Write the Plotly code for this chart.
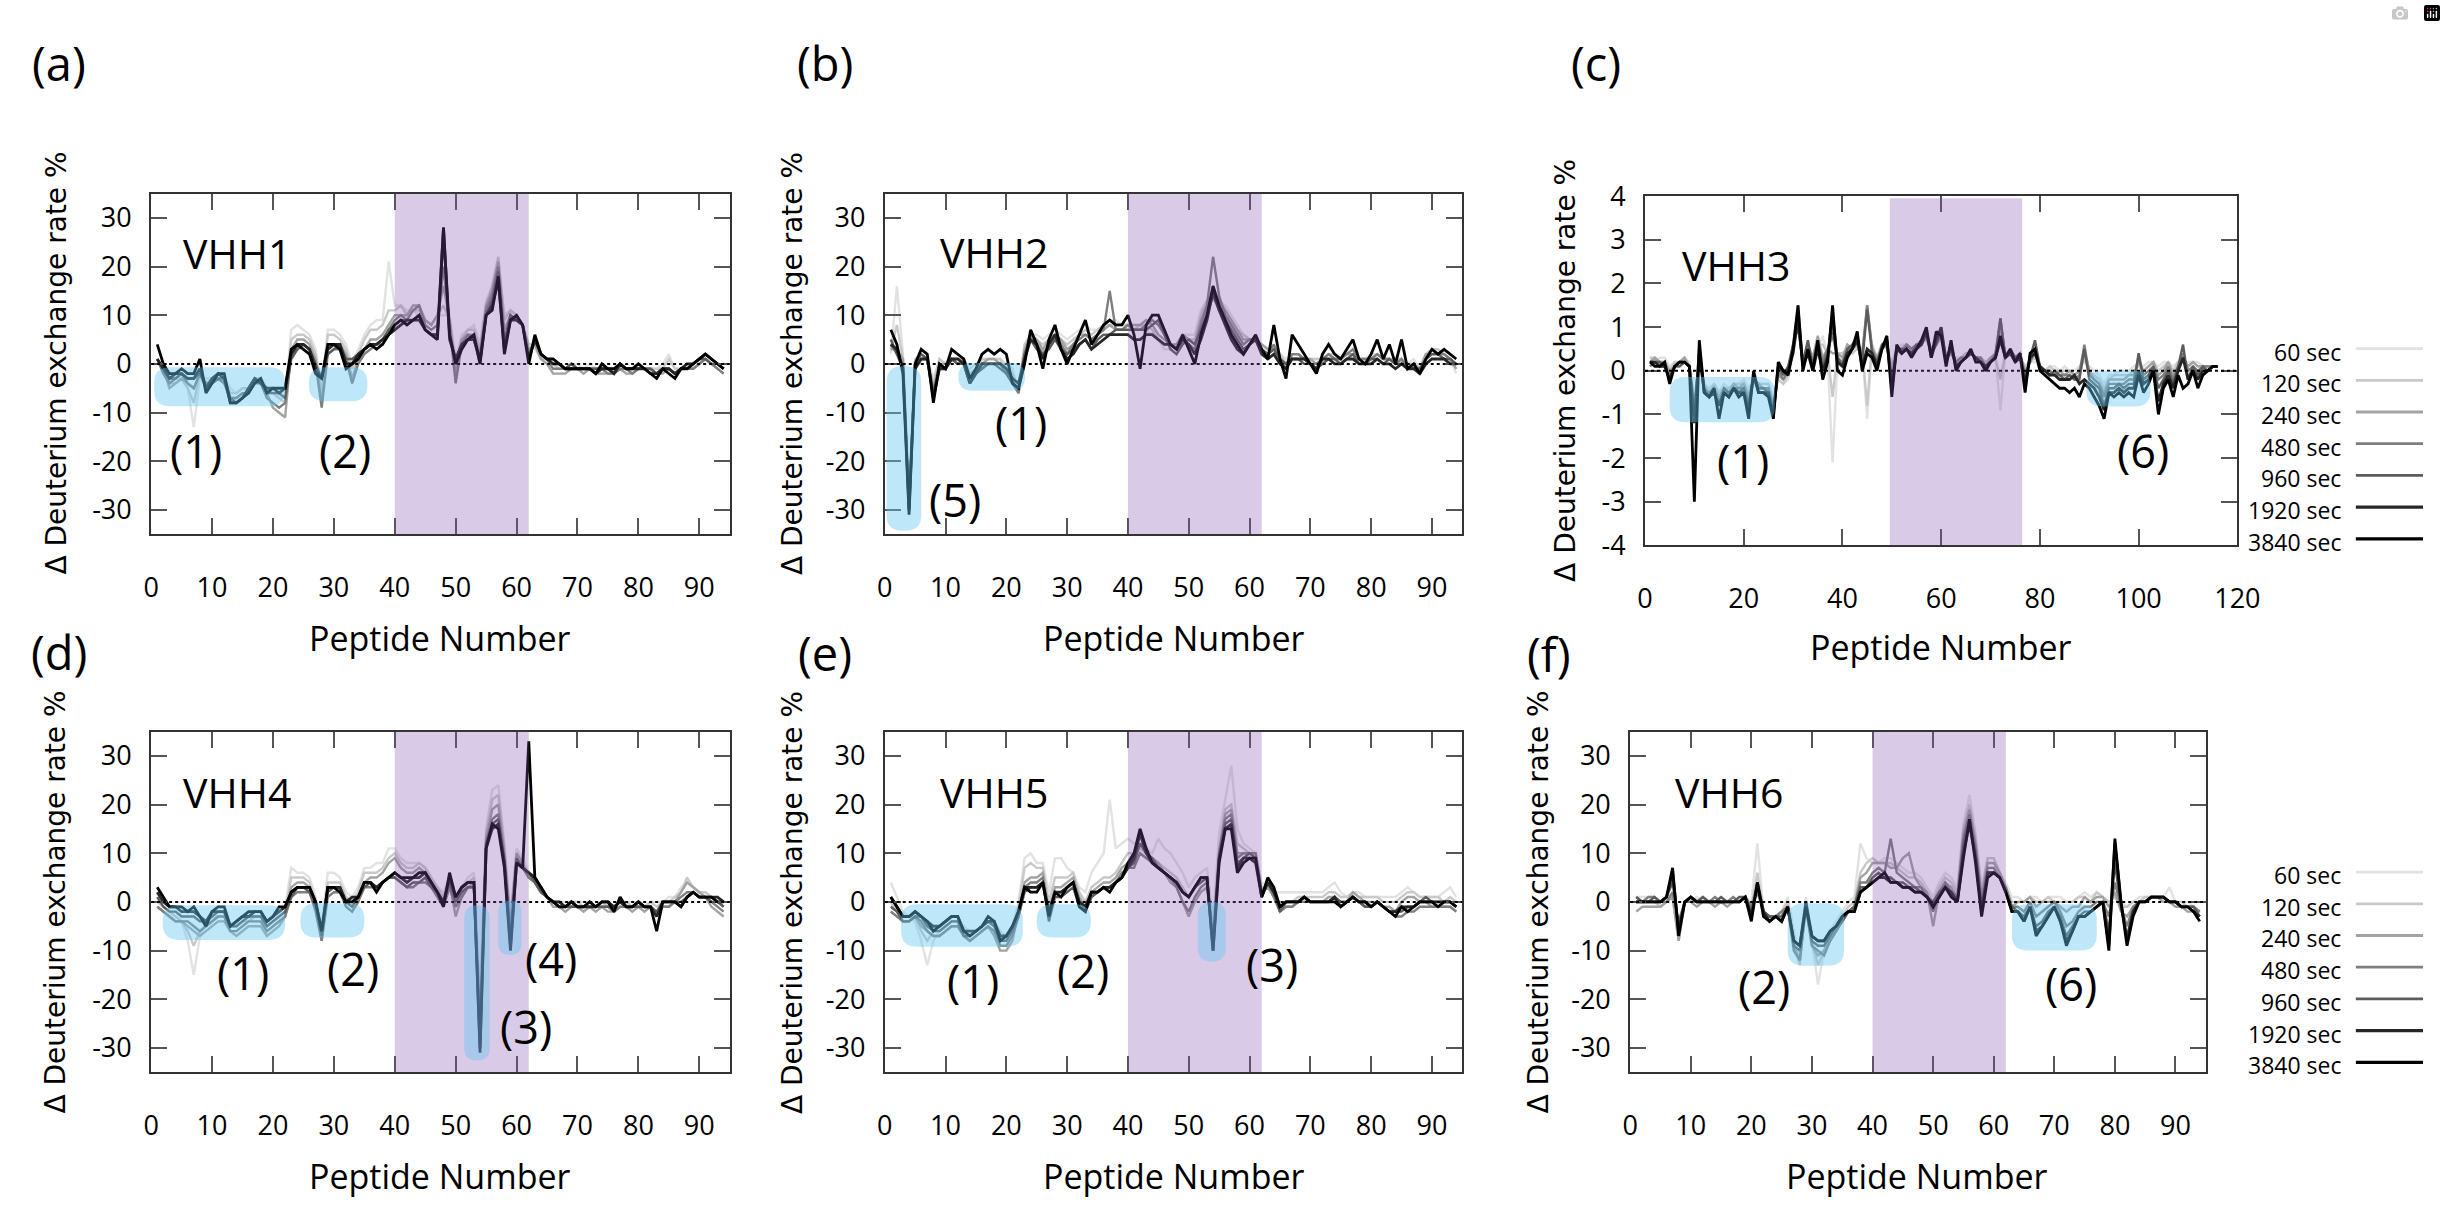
import plotly.graph_objects as go

# ---------------- data ----------------
TIMES = ["60 sec", "120 sec", "240 sec", "480 sec", "960 sec", "1920 sec", "3840 sec"]
NAMES = ["VHH1", "VHH2", "VHH3", "VHH4", "VHH5", "VHH6"]
LETTERS = ["(a)", "(b)", "(c)", "(d)", "(e)", "(f)"]

X_TICKS = [0, 10, 20, 30, 40, 50, 60, 70, 80, 90]
X_TICKS_C = [0, 20, 40, 60, 80, 100, 120]
Y_TICKS = [-30, -20, -10, 0, 10, 20, 30]
Y_TICK_TEXT = ["-30", "-20", "-10", "0", "10", "20", "30"]
Y_TICKS_C = [-4, -3, -2, -1, 0, 1, 2, 3, 4]
Y_TICK_TEXT_C = ["-4", "-3", "-2", "-1", "0", "1", "2", "3", "4"]

# (a) VHH1
A_60 = [1, -1, -4, -3, -3, -5, -13, -3, -3, -3,
        -2, -3, -5, -6, -5, -5, -3, -3, -5, -6,
        -7, -7, 7, 8, 7, 6, 3, -5, 7, 7,
        6, 4, 0, 3, 6, 8, 9, 9, 21, 12,
        12, 11, 11, 10, 9, 8, 10, 10, 10, 1,
        6, 7, 8, 4, 13, 16, 21, 10, 11, 10,
        8, 4, 3, 1, 1, 0, 0, -1, 0, 0,
        -1, 0, -1, -1, -1, -1, 0, -1, -1, 0,
        -1, -1, -1, 0, 2, -1, -1, -1, 0, 1,
        1, 1, 0, -1]
A_120 = [1, -1, -4, -4, -3, -5, -8, -2, -4, -3,
         -2, -3, -6, -6, -5, -5, -3, -3, -5, -6,
         -7, -8, 5, 6, 6, 5, 2, -6, 6, 6,
         5, 3, -1, 2, 5, 7, 7, 8, 11, 11,
         12, 10, 11, 11, 9, 8, 10, 12, 9, 0,
         5, 7, 7, 3, 12, 16, 22, 9, 11, 10,
         8, 4, 4, 1, 1, 0, -1, -1, 0, -1,
         -1, -1, -1, -1, -1, -1, 0, -1, -1, 0,
         -1, -1, -1, -1, 1, -1, -1, -1, 0, 1,
         2, 1, 0, -1]
A_240 = [1, -1, -5, -4, -3, -4, -5, -2, -4, -4,
         -3, -4, -7, -7, -6, -6, -3, -4, -6, -9,
         -10, -11, 3, 5, 5, 4, 1, -8, 3, 4,
         4, 2, -3, 1, 3, 5, 5, 6, 8, 10,
         10, 10, 12, 12, 9, 8, 10, 16, 9, -2,
         5, 6, 6, 2, 12, 15, 21, 7, 10, 9,
         8, 3, 4, 1, 0, -2, -2, -2, -1, -1,
         -2, -1, -2, -2, -2, -2, -1, -2, -2, -1,
         -1, -1, -2, -2, -1, -2, -1, -1, -1, 0,
         1, 0, -1, -2]
A_480 = [1, -2, -4, -3, -2, -4, -5, -2, -4, -4,
         -3, -4, -7, -7, -6, -6, -4, -4, -7, -8,
         -9, -8, 2, 3, 4, 3, 0, -9, 2, 3,
         3, 1, -4, 0, 2, 3, 4, 4, 7, 9,
         10, 9, 11, 12, 8, 7, 8, 20, 8, -4,
         4, 6, 5, 1, 11, 14, 20, 5, 10, 9,
         8, 2, 5, 2, 1, -1, -1, -1, 0, -1,
         -1, -1, -1, -1, -2, -2, -1, -1, -2, -1,
         -1, -1, -2, -1, -1, -2, -1, -1, -1, 0,
         1, 0, -1, -2]
A_960 = [1, -1, -3, -3, -2, -3, -3, -2, -5, -4,
         -3, -3, -7, -8, -7, -5, -3, -4, -6, -6,
         -6, -7, 1, 3, 4, 3, 0, -3, 2, 3,
         4, 1, 1, 2, 3, 4, 4, 5, 7, 8,
         9, 9, 9, 10, 7, 6, 6, 26, 6, 1,
         4, 5, 5, 0, 10, 13, 19, 4, 10, 9,
         8, 1, 5, 2, 1, 0, 0, -1, 0, -1,
         -1, -1, -1, -1, -1, -2, 0, -1, -1, -1,
         -1, -1, -2, -1, -1, -2, -1, -1, 0, 1,
         1, 0, 0, -1]
A_1920 = [1, -1, -3, -2, -2, -3, -3, -1, -5, -3,
          -2, -3, -8, -8, -7, -5, -3, -4, -5, -5,
          -6, -5, 2, 4, 4, 3, -1, -3, 3, 4,
          4, 0, 0, 2, 3, 4, 4, 5, 6, 7,
          8, 9, 9, 9, 7, 6, 6, 28, 5, 1,
          4, 5, 5, 1, 10, 12, 17, 3, 9, 9,
          8, 1, 5, 2, 1, 0, 0, -1, -1, -1,
          -1, -1, -2, -1, -1, -2, 0, -1, -1, -1,
          -1, -2, -2, -1, -1, -2, -1, 0, 0, 1,
          2, 1, 0, -1]
A_3840 = [4, 0, -2, -2, -1, -2, -2, 1, -6, -4,
          -2, -2, -8, -8, -7, -6, -4, -3, -6, -5,
          -5, -5, 3, 4, 3, 2, -2, -3, 4, 4,
          3, -1, 0, 1, 3, 4, 3, 4, 6, 8,
          9, 8, 9, 10, 7, 6, 5, 28, 6, 0,
          3, 5, 6, 0, 10, 11, 18, 2, 9, 10,
          8, 0, 6, 2, 1, 1, 0, -1, -1, -1,
          -1, -1, -2, 0, -1, -1, 0, -1, -1, 0,
          -1, -2, -3, -1, -2, -3, -1, -1, 0, 1,
          2, 1, 0, -1]

# (b) VHH2
B_60 = [2, 16, 2, -27, 1, 2, 1, -3, 1, 0,
        1, 1, 1, -1, 0, 1, 1, 1, 1, 0,
        -1, -6, 4, 6, 6, 5, 6, 7, 6, 5,
        6, 7, 8, 7, 7, 8, 9, 9, 8, 8,
        7, 8, 7, 6, 5, 3, 3, 4, 6, 6,
        6, 11, 13, 13, 13, 12, 10, 8, 6, 5,
        5, 4, 3, 3, 2, 1, 2, 2, 1, 1,
        1, 1, 2, 2, 1, 2, 2, 1, 1, 2,
        2, 1, 1, 1, 1, 0, 1, -1, 2, 3,
        3, 2, 1, -2]
B_120 = [3, 8, 1, -28, 1, 2, 1, -4, 1, 0,
         1, 1, 1, -2, -1, 1, 1, 1, 1, -1,
         -2, -5, 4, 6, 5, 4, 5, 6, 5, 4,
         5, 6, 7, 6, 7, 8, 8, 8, 8, 8,
         7, 8, 8, 7, 5, 4, 4, 4, 6, 5,
         5, 10, 13, 14, 13, 11, 9, 7, 6, 5,
         5, 4, 3, 3, 2, 0, 2, 2, 1, 1,
         1, 1, 2, 2, 1, 2, 2, 1, 1, 1,
         2, 1, 1, 1, 1, 0, 0, -1, 2, 3,
         3, 2, 1, -1]
B_240 = [3, 3, 1, -29, 0, 1, 1, -5, 0, 0,
         1, 0, 1, -3, -1, 0, 1, 1, 0, -1,
         -3, -6, 3, 6, 5, 3, 5, 6, 5, 3,
         4, 6, 6, 5, 6, 7, 8, 7, 7, 8,
         8, 8, 9, 8, 6, 5, 4, 4, 6, 5,
         4, 9, 12, 15, 13, 11, 9, 7, 5, 5,
         5, 4, 3, 3, 1, 0, 2, 2, 1, 1,
         0, 1, 2, 1, 1, 2, 2, 1, 1, 1,
         2, 1, 1, 0, 1, -1, 0, -1, 2, 2,
         2, 2, 1, -1]
B_480 = [4, 2, 0, -30, 0, 1, 1, -6, 0, -1,
         1, 0, 0, -4, -2, -1, 0, 0, 0, -2,
         -4, -6, 2, 6, 4, 2, 4, 6, 4, 2,
         4, 5, 6, 5, 6, 7, 15, 7, 7, 8,
         7, 7, 8, 9, 8, 6, 4, 3, 5, 4,
         3, 8, 12, 22, 14, 10, 8, 6, 4, 5,
         5, 3, 2, 4, 1, -1, 2, 2, 1, 0,
         0, 1, 2, 1, 1, 2, 3, 1, 1, 1,
         2, 1, 1, 0, 1, -1, 0, -2, 1, 2,
         2, 2, 1, 0]
B_960 = [5, 2, -1, -30, 0, 2, 1, -6, -1, -1,
         1, 0, 0, -4, -2, -1, 0, 0, -1, -2,
         -4, -5, 2, 5, 3, 2, 3, 5, 3, 2,
         3, 4, 5, 3, 5, 6, 6, 7, 7, 7,
         7, 7, 7, 8, 9, 6, 3, 2, 4, 5,
         4, 7, 10, 14, 11, 9, 7, 5, 3, 4,
         5, 3, 2, 3, 1, 0, 1, 1, 0, 0,
         -1, 0, 1, 1, 0, 1, 2, 0, 0, 1,
         1, 0, 1, 0, 0, -1, -1, -1, 1, 2,
         2, 1, 1, 0]
B_1920 = [4, 3, -1, -30, -1, 1, 1, -7, -1, -1,
          1, 1, 0, -4, -2, 0, 0, 0, 0, -1,
          -3, -4, 1, 5, 4, 1, 4, 6, 3, 1,
          2, 4, 5, 3, 4, 5, 6, 6, 6, 6,
          5, 5, 6, 6, 5, 4, 4, 3, 5, 4,
          2, 5, 9, 15, 11, 8, 5, 3, 2, 4,
          5, 2, 1, 2, 0, -1, 1, 1, 1, 0,
          -1, 1, 1, 0, 0, 1, 1, 0, 0, 0,
          1, 0, 0, -1, 0, -1, -1, -2, 0, 1,
          1, 1, 0, 0]
B_3840 = [7, 4, -2, -31, 0, 3, 2, -8, 0, -1,
          3, 2, 1, -3, -1, 2, 3, 2, 3, 2,
          -4, -5, 0, 7, 4, -1, 5, 8, 3, 0,
          3, 6, 9, 4, 6, 8, 9, 8, 8, 10,
          6, -1, 8, 10, 10, 7, 4, 3, 6, 3,
          0, 6, 10, 16, 12, 9, 6, 4, 2, 4,
          6, 3, 1, 8, 1, -3, 6, 4, 2, 0,
          -2, 2, 4, 2, 1, 3, 5, 1, 0, 2,
          5, 1, 4, 0, 5, -1, 0, -2, 1, 3,
          2, 3, 2, 1]

# (c) VHH3
C_60 = [0.3, 0.2, 0.3, 0.3, 0.1, 0.2, 0.2, 0.3, 0.2, -0.6,
        0.2, -0.3, -0.4, -0.3, -0.5, -0.3, -0.4, -0.3, -0.3, -0.2,
        -0.4, -0.2, -0.3, -0.3, -0.3, -0.6, -0.2, -0.3, -0.2, 0.4,
        1.2, 0.0, 0.4, 0.2, 0.5, 0.8, 0.3, -2.1, 0.3, 0.4,
        0.5, 0.4, 0.6, 0.5, -1.1, 0.6, 0.3, 0.6, 0.5, 0.2,
        0.5, 0.6, 0.6, 0.5, 0.6, 0.7, 0.7, 0.5, 0.6, 0.7,
        0.3, 0.4, 0.3, 0.3, 0.4, 0.4, 0.3, 0.3, 0.2, 0.3,
        0.3, -0.9, 0.4, 0.4, 0.3, 0.3, 0.1, 0.2, 0.2, 0.1,
        0.0, 0.1, 0.1, 0.0, 0.1, 0.0, 0.0, 0.1, 0.2, 0.1,
        0.0, -0.1, -0.3, -0.1, -0.1, 0.0, 0.0, 0.0, 0.1, 0.2,
        0.1, 0.2, 0.2, 0.1, 0.2, 0.2, 0.1, 0.2, 0.2, 0.2,
        0.2, 0.2, 0.1, 0.1, 0.1, 0.1]
C_120 = [0.3, 0.3, 0.2, 0.2, 0.0, 0.2, 0.2, 0.3, 0.1, -0.7,
         0.2, -0.3, -0.5, -0.3, -0.5, -0.4, -0.4, -0.3, -0.3, -0.3,
         -0.5, -0.2, -0.3, -0.3, -0.3, -0.7, -0.2, -0.3, -0.1, 0.5,
         1.3, 0.0, 0.5, 0.2, 0.6, 0.6, 0.4, -0.6, 0.4, 0.4,
         0.5, 0.4, 0.5, 0.5, -0.8, 0.6, 0.3, 0.6, 0.6, 0.1,
         0.5, 0.5, 0.6, 0.5, 0.6, 0.7, 0.7, 0.5, 0.6, 0.8,
         0.3, 0.4, 0.2, 0.3, 0.4, 0.4, 0.3, 0.3, 0.2, 0.3,
         0.3, -0.2, 0.4, 0.4, 0.3, 0.3, 0.1, 0.2, 0.3, 0.1,
         0.0, 0.1, 0.0, 0.0, 0.0, 0.0, -0.1, 0.0, 0.3, 0.0,
         -0.1, -0.2, -0.4, -0.2, -0.1, -0.1, -0.1, -0.1, 0.0, 0.1,
         0.0, 0.1, 0.2, 0.0, 0.1, 0.2, 0.0, 0.2, 0.2, 0.1,
         0.2, 0.1, 0.1, 0.1, 0.1, 0.1]
C_240 = [0.2, 0.3, 0.2, 0.2, 0.0, 0.1, 0.2, 0.3, 0.1, -0.8,
         0.3, -0.4, -0.5, -0.4, -0.6, -0.4, -0.5, -0.3, -0.4, -0.3,
         -0.6, -0.2, -0.3, -0.4, -0.4, -0.8, -0.1, -0.2, 0.0, 0.6,
         1.5, 0.1, 0.6, 0.3, 0.8, 0.3, 0.5, 0.4, 0.4, 0.3,
         0.6, 0.5, 0.6, 0.4, 1.5, 0.5, 0.3, 0.5, 0.6, 0.0,
         0.5, 0.5, 0.6, 0.5, 0.6, 0.6, 0.8, 0.5, 0.6, 0.8,
         0.3, 0.4, 0.2, 0.3, 0.3, 0.4, 0.3, 0.3, 0.1, 0.3,
         0.4, 1.0, 0.4, 0.4, 0.3, 0.3, 0.0, 0.2, 0.4, 0.1,
         0.0, 0.0, -0.1, 0.0, -0.1, 0.0, -0.1, 0.0, 0.5, 0.0,
         -0.2, -0.3, -0.5, -0.2, -0.2, -0.2, -0.2, -0.1, -0.1, 0.2,
         0.0, 0.1, 0.2, -0.1, 0.0, 0.2, -0.1, 0.1, 0.3, 0.1,
         0.2, 0.1, 0.1, 0.1, 0.1, 0.1]
C_480 = [0.1, 0.2, 0.2, 0.1, -0.1, 0.1, 0.1, 0.2, 0.1, -0.9,
         0.3, -0.5, -0.5, -0.4, -0.7, -0.5, -0.5, -0.4, -0.4, -0.4,
         -0.7, -0.2, -0.4, -0.4, -0.4, -0.9, 0.0, -0.2, 0.0, 0.5,
         1.4, 0.2, 0.5, 0.2, 0.7, 0.2, 0.5, 0.8, 0.3, 0.2,
         0.5, 0.5, 0.7, 0.3, 1.5, 0.5, 0.2, 0.5, 0.6, -0.2,
         0.5, 0.4, 0.6, 0.5, 0.6, 0.6, 0.8, 0.4, 0.6, 0.9,
         0.3, 0.5, 0.2, 0.3, 0.3, 0.4, 0.3, 0.3, 0.1, 0.2,
         0.4, 1.2, 0.3, 0.4, 0.3, 0.4, -0.1, 0.2, 0.5, 0.1,
         0.0, 0.0, -0.1, -0.1, -0.1, -0.1, -0.2, -0.1, 0.6, -0.1,
         -0.2, -0.3, -0.6, -0.3, -0.3, -0.3, -0.3, -0.2, -0.2, 0.3,
         -0.1, 0.0, 0.1, -0.2, -0.1, 0.1, -0.2, 0.1, 0.4, 0.0,
         0.1, 0.0, 0.1, 0.1, 0.1, 0.1]
C_960 = [0.2, 0.2, 0.2, 0.1, -0.2, 0.1, 0.1, 0.2, 0.1, -1.0,
         0.4, -0.4, -0.6, -0.5, -0.8, -0.4, -0.5, -0.4, -0.5, -0.4,
         -0.8, -0.1, -0.4, -0.4, -0.5, -1.0, 0.1, -0.1, 0.1, 0.6,
         1.0, 0.2, 0.7, 0.1, 0.6, 0.1, 0.4, 1.0, 0.3, 0.1,
         0.5, 0.6, 0.8, 0.2, 1.4, 0.4, 0.2, 0.6, 0.7, -0.3,
         0.5, 0.5, 0.5, 0.4, 0.6, 0.6, 0.9, 0.4, 0.6, 0.9,
         0.2, 0.5, 0.1, 0.2, 0.3, 0.4, 0.3, 0.2, 0.0, 0.2,
         0.3, 1.2, 0.3, 0.5, 0.3, 0.4, -0.2, 0.3, 0.7, 0.1,
         0.0, -0.1, 0.0, -0.1, -0.2, -0.1, -0.2, -0.2, 0.5, -0.2,
         -0.3, -0.4, -0.8, -0.4, -0.4, -0.3, -0.4, -0.3, -0.3, 0.4,
         -0.2, -0.1, 0.1, -0.4, -0.2, 0.0, -0.3, 0.1, 0.6, -0.2,
         0.1, -0.1, 0.1, 0.0, 0.1, 0.1]
C_1920 = [0.2, 0.2, 0.1, 0.1, -0.2, 0.1, 0.2, 0.2, 0.1, -1.2,
          0.5, -0.5, -0.6, -0.5, -0.8, -0.5, -0.6, -0.4, -0.5, -0.5,
          -0.9, -0.1, -0.5, -0.5, -0.5, -1.0, 0.1, 0.0, 0.0, 0.4,
          1.2, 0.1, 0.4, 0.0, 0.5, 0.0, 0.3, 1.3, 0.2, 0.1,
          0.4, 0.5, 0.7, 0.1, 0.5, 0.4, 0.1, 0.5, 0.7, -0.4,
          0.5, 0.4, 0.5, 0.4, 0.5, 0.6, 0.9, 0.3, 0.7, 1.0,
          0.2, 0.6, 0.1, 0.2, 0.3, 0.4, 0.3, 0.2, 0.1, 0.2,
          0.3, 0.7, 0.3, 0.4, 0.2, 0.3, -0.3, 0.3, 0.4, 0.1,
          0.0, -0.1, -0.1, -0.2, -0.2, -0.2, -0.1, -0.3, -0.2, -0.3,
          -0.4, -0.6, -0.9, -0.5, -0.5, -0.4, -0.5, -0.4, -0.4, 0.0,
          -0.3, -0.2, 0.0, -0.7, -0.3, -0.1, -0.4, 0.0, 0.3, -0.2,
          0.0, -0.2, 0.0, 0.0, 0.1, 0.1]
C_3840 = [0.2, 0.1, 0.1, 0.2, -0.3, 0.1, 0.2, 0.2, 0.1, -3.0,
          0.7, -0.5, -0.6, -0.4, -1.1, -0.5, -0.6, -0.4, -0.6, -0.5,
          -1.1, 0.0, -0.5, -0.5, -0.6, -1.1, 0.2, 0.0, -0.1, 0.5,
          1.5, 0.0, 0.5, 0.0, 0.7, -0.2, 0.2, 1.5, 0.0, -0.1,
          0.3, 0.5, 0.9, 0.0, 0.4, 0.3, 0.0, 0.5, 0.8, -0.6,
          0.6, 0.4, 0.5, 0.3, 0.5, 0.7, 1.0, 0.3, 0.9, 0.8,
          0.1, 0.7, 0.0, 0.2, 0.3, 0.5, 0.2, 0.2, 0.0, 0.2,
          0.3, 0.8, 0.3, 0.5, 0.2, 0.4, -0.5, 0.4, 0.5, 0.0,
          -0.1, -0.2, -0.3, -0.4, -0.4, -0.5, -0.4, -0.6, -0.3, -0.4,
          -0.6, -0.8, -1.1, -0.5, -0.6, -0.5, -0.6, -0.5, -0.6, -0.1,
          -0.5, -0.3, 0.0, -1.0, -0.4, -0.2, -0.6, -0.1, -0.4, -0.3,
          0.0, -0.4, -0.1, 0.0, 0.1, 0.1]

# (d) VHH4
D_60 = [1, -1, -2, -3, -4, -8, -15, -7, -4, -3,
        -3, -3, -5, -5, -4, -3, -3, -3, -4, -3,
        -2, -1, 7, 6, 6, 5, 1, -5, 6, 6,
        5, 2, 1, 3, 7, 7, 8, 8, 11, 11,
        9, 8, 8, 8, 7, 5, 3, 2, 5, 0,
        3, 5, 6, -20, 15, 23, 24, 12, -3, 11,
        9, 6, 4, 2, 1, 0, 0, 0, 0, 0,
        0, 0, -1, 0, 0, -1, 0, 0, 0, 0,
        -1, 0, 0, 0, 1, 1, 3, 4, 3, 2,
        2, 1, 0, -1]
D_120 = [0, -1, -2, -3, -4, -6, -9, -6, -5, -4,
         -3, -3, -5, -5, -4, -4, -3, -3, -5, -4,
         -3, -2, 5, 5, 5, 4, 0, -6, 4, 4,
         4, 1, 0, 2, 6, 6, 6, 7, 9, 10,
         8, 7, 7, 8, 7, 5, 3, 1, 5, -1,
         2, 4, 5, -22, 14, 21, 22, 11, -4, 10,
         8, 5, 4, 2, 1, 0, 0, -1, 0, 0,
         -1, 0, -1, 0, -1, -1, 0, 0, -1, 0,
         -1, 0, -1, 0, 0, 1, 2, 5, 3, 2,
         2, 1, 0, -1]
D_240 = [-1, -2, -3, -4, -4, -5, -6, -7, -6, -5,
         -4, -4, -6, -7, -6, -5, -5, -5, -7, -6,
         -5, -3, 3, 4, 4, 3, -1, -8, 3, 3,
         3, 0, -1, 1, 4, 5, 5, 6, 8, 9,
         7, 6, 6, 7, 6, 4, 2, 0, 4, -3,
         1, 3, 4, -24, 13, 19, 20, 10, -5, 10,
         8, 5, 4, 2, 1, -1, -1, -2, -1, -1,
         -2, -1, -2, -1, -2, -2, -1, -1, -2, -1,
         -2, -1, -2, -1, -1, 0, 2, 4, 3, 2,
         1, -1, -2, -3]
D_480 = [-1, -2, -3, -4, -4, -4, -5, -6, -5, -4,
         -3, -3, -6, -6, -5, -4, -4, -4, -6, -5,
         -4, -3, 1, 2, 2, 2, -2, -8, 1, 2,
         2, -1, -2, 0, 3, 3, 3, 4, 5, 5,
         4, 3, 3, 4, 4, 3, 1, -1, 3, -1,
         1, 3, 3, -26, 12, 17, 18, 9, -6, 9,
         7, 5, 4, 2, 1, 0, -1, -1, -1, -1,
         -1, -1, -1, -1, -1, -2, -1, -1, -1, -1,
         -1, -1, -2, -1, -1, 0, 1, 2, 2, 1,
         1, 0, -1, -2]
D_960 = [1, -1, -2, -2, -3, -3, -3, -4, -4, -3,
         -2, -2, -5, -5, -4, -3, -3, -3, -5, -4,
         -3, -2, 1, 3, 3, 2, -1, -7, 2, 3,
         3, 0, -1, 1, 3, 4, 3, 4, 5, 5,
         4, 3, 4, 4, 5, 3, 2, 0, 4, 0,
         2, 3, 3, -29, 12, 16, 17, 8, -8, 9,
         7, 6, 4, 2, 1, 0, -1, -1, -1, -1,
         -1, -1, -1, -1, -1, -1, 0, -1, -1, -1,
         -1, -1, -2, 0, 0, 0, 0, 1, 2, 1,
         1, 0, 0, -1]
D_1920 = [2, 0, -1, -1, -2, -2, -2, -3, -4, -2,
          -2, -2, -5, -4, -3, -3, -2, -2, -4, -3,
          -2, -1, 2, 3, 3, 3, 0, -6, 3, 3,
          3, 0, 1, 1, 4, 4, 3, 4, 5, 6,
          5, 4, 5, 5, 6, 4, 2, 0, 5, 1,
          3, 4, 4, -30, 11, 15, 16, 8, -9, 8,
          7, 6, 5, 3, 1, 0, 0, -1, 0, -1,
          -1, -1, -1, 0, 0, -1, 0, -1, -1, 0,
          -1, -1, -3, 0, 0, 0, -1, 1, 2, 1,
          1, 1, 1, 0]
D_3840 = [3, 1, -1, -1, -1, -2, -1, -3, -5, -2,
          -1, -1, -5, -4, -3, -2, -2, -2, -4, -3,
          -1, -1, 2, 3, 3, 3, 0, -6, 3, 3,
          2, 0, 0, 1, 4, 4, 2, 4, 5, 6,
          5, 5, 5, 6, 6, 4, 2, -1, 6, 1,
          3, 4, 4, -31, 11, 16, 15, 7, -10, 8,
          7, 33, 5, 3, 1, 0, -1, -1, 0, -1,
          -1, 0, -1, 0, 0, -2, 1, -1, -1, 0,
          -1, -1, -6, 0, 0, 0, -1, 1, 2, 1,
          1, 1, 0, 0]

# (e) VHH5
E_60 = [4, 1, -2, -3, -4, -8, -13, -8, -6, -5,
        -4, -4, -5, -6, -6, -5, -4, -4, -6, -7,
        -5, 0, 9, 10, 8, 8, 2, 9, 9, 7,
        6, 3, 2, 6, 8, 10, 21, 11, 12, 13,
        12, 12, 11, 10, 13, 11, 10, 8, 6, 3,
        5, 6, 7, -4, 14, 21, 28, 15, 12, 11,
        10, 4, 3, 2, 2, 2, 2, 2, 2, 2,
        2, 2, 3, 4, 2, 1, 2, 2, 1, 1,
        1, 1, 1, 1, 2, 3, 2, 1, 1, 1,
        1, 2, 3, 1]
E_120 = [0, -2, -3, -3, -3, -6, -8, -6, -6, -5,
         -4, -4, -6, -7, -6, -5, -4, -5, -8, -8,
         -6, -1, 7, 8, 7, 7, 0, 5, 5, 5,
         6, 2, 0, 3, 4, 5, 5, 6, 8, 10,
         10, 11, 10, 9, 8, 7, 6, 5, 3, 1,
         3, 4, 5, -6, 11, 19, 20, 12, 11, 10,
         10, 3, 3, 1, 0, 0, 0, 1, 1, 1,
         1, 1, 2, 2, 1, 1, 2, 1, 1, 1,
         1, 0, 0, 0, 1, 2, 2, 1, 1, 1,
         1, 0, 1, 0]
E_240 = [-2, -3, -4, -4, -3, -5, -6, -7, -7, -6,
         -5, -5, -7, -8, -7, -6, -5, -7, -10, -10,
         -8, -2, 4, 5, 5, 6, -2, 3, 3, 4,
         5, 1, -1, 2, 3, 4, 4, 5, 7, 8,
         8, 10, 9, 9, 8, 6, 4, 3, 0, -3,
         0, 2, 3, -7, 10, 18, 19, 10, 10, 10,
         10, 2, 3, 1, -2, -1, -1, 0, 0, 0,
         0, 0, 1, 1, 0, 0, 2, 1, 0, 0,
         0, -1, -1, -2, 0, 1, 1, 0, 0, -1,
         -1, -1, -1, -2]
E_480 = [-2, -3, -4, -4, -3, -4, -6, -7, -7, -6,
         -5, -5, -7, -8, -7, -6, -5, -6, -9, -9,
         -7, -3, 3, 4, 4, 5, -3, 2, 2, 3,
         4, 0, -2, 1, 2, 3, 3, 4, 6, 7,
         7, 10, 9, 8, 7, 6, 5, 3, 0, -2,
         1, 3, 4, -8, 10, 17, 18, 9, 10, 10,
         10, 2, 4, 1, -2, -1, -1, 0, 0, 0,
         0, 0, 0, 1, 0, 0, 1, 0, -1, -1,
         0, -1, -2, -3, -3, -2, -2, -1, -1, -1,
         -1, -1, -1, -2]
E_960 = [-1, -2, -4, -4, -3, -3, -5, -6, -6, -5,
         -4, -4, -7, -7, -6, -5, -4, -5, -8, -8,
         -6, -3, 2, 3, 3, 4, -4, 1, 1, 2,
         3, -1, -2, 1, 2, 3, 3, 4, 5, 7,
         8, 12, 10, 9, 7, 6, 5, 4, 2, 1,
         3, 4, 5, -9, 9, 16, 17, 8, 9, 10,
         9, 1, 4, 2, -2, 0, 0, 0, 1, 0,
         0, 0, 0, 1, 0, 0, 1, 0, -1, -1,
         0, -1, -2, -2, -2, -1, -1, 0, 1, 0,
         0, 0, 0, -1]
E_1920 = [1, -1, -3, -3, -2, -3, -4, -5, -5, -4,
          -3, -3, -6, -6, -6, -5, -4, -4, -7, -7,
          -5, -2, 3, 3, 3, 4, -2, 2, 2, 3,
          4, 0, -1, 2, 2, 3, 3, 4, 5, 7,
          9, 14, 10, 8, 7, 6, 5, 4, 2, 1,
          3, 5, 5, -10, 9, 15, 16, 7, 9, 9,
          8, 1, 4, 2, -1, 0, 0, 0, 1, 0,
          0, 0, 0, 1, -1, 0, 1, 0, 0, -1,
          0, -1, -2, -2, -1, -1, -1, 0, 0, 0,
          0, 0, 0, -1]
E_3840 = [1, -1, -3, -3, -2, -3, -4, -6, -5, -4,
          -3, -3, -6, -7, -6, -5, -3, -4, -8, -7,
          -5, -2, 3, 2, 2, 4, -3, 2, 1, 3,
          4, -1, -2, 2, 2, 3, 2, 4, 5, 8,
          10, 15, 11, 8, 7, 6, 5, 4, 2, 1,
          3, 5, 5, -10, 8, 15, 15, 6, 8, 9,
          9, 1, 5, 3, -1, 0, 0, 0, 1, 0,
          0, 0, 0, 0, -1, 0, 1, 0, 0, -1,
          0, -1, -2, -3, -1, -2, -1, 0, 0, 0,
          -1, 0, 0, -1]

# (f) VHH6
F_60 = [1, 1, 1, 1, 0, 0, 1, -8, 0, 0,
        1, 0, 0, 0, 1, 0, 1, 0, 1, 0,
        12, -2, -3, -3, -2, 1, -6, -12, 1, -8,
        -17, -10, -6, -4, -2, 0, 1, 12, 9, 8,
        8, 9, 9, 8, 7, 6, 6, 5, 3, 1,
        4, 6, 5, 3, 16, 22, 14, 3, 9, 9,
        6, 4, 1, 1, 0, 1, 1, 0, 1, 1,
        1, 0, 0, 1, 2, 1, 2, 1, 0, 1,
        0, -1, 0, 1, 1, 1, 1, 1, 3, 0,
        0, 0, -1, -2]
F_120 = [0, 0, 0, 0, -1, 0, 1, -8, 0, 0,
         0, 0, 0, 0, 0, 0, 0, 0, 1, -1,
         6, -2, -3, -3, -2, 0, -8, -13, 0, -8,
         -13, -10, -7, -5, -3, -1, 0, 6, 8, 9,
         8, 8, 8, 7, 6, 5, 5, 4, 2, 0,
         3, 5, 4, 2, 15, 20, 13, 2, 9, 9,
         6, 3, 0, 0, 0, 1, 0, 0, 1, 0,
         0, 0, 0, 1, 1, 0, 2, 1, 0, 1,
         -1, -1, 0, 0, 1, 1, 1, 0, 0, 0,
         0, -1, -1, -2]
F_240 = [-2, -1, -1, -1, -1, 0, 1, -8, 0, 0,
         -1, 0, 0, -1, 0, -1, 0, 0, 1, -1,
         4, -2, -3, -3, -2, -1, -9, -12, -1, -9,
         -11, -10, -8, -6, -4, -2, -1, 5, 6, 8,
         8, 8, 7, 7, 9, 10, 5, 3, 2, -5,
         2, 4, 3, 1, 14, 19, 12, 1, 8, 8,
         6, 3, -1, 0, 0, 1, -1, 0, 0, 0,
         -1, -2, -1, -1, 1, 0, 1, 1, -1, 2,
         -2, -3, -1, 0, 0, 1, 1, 0, 0, -1,
         -1, -2, -2, -2]
F_480 = [1, 0, 1, 1, 0, 0, 2, -4, 0, 0,
         0, 1, 0, 1, 0, 0, 1, 0, 1, -1,
         2, -2, -3, -3, -2, -1, -10, -12, -1, -9,
         -10, -11, -8, -6, -4, -2, -1, 4, 4, 6,
         7, 6, 13, 6, 5, 4, 3, 3, 1, -2,
         2, 4, 2, 1, 13, 18, 11, 0, 7, 7,
         5, 3, -1, -1, -2, 0, -3, -2, -1, 0,
         -2, -5, -4, -2, -1, -1, 0, 0, -3, 4,
         -1, -5, -1, 0, 0, 1, 1, 1, 0, 0,
         -1, -1, -1, -2]
F_960 = [1, 0, 0, 1, 0, 1, 4, -5, 0, 1,
         0, 1, 0, 0, 1, 0, 0, 1, 1, -2,
         3, -2, -3, -3, -3, -1, -9, -10, -1, -8,
         -9, -9, -7, -5, -4, -2, -1, 3, 3, 5,
         6, 5, 5, 4, 4, 3, 3, 2, 1, 0,
         2, 3, 2, 0, 12, 17, 10, -1, 6, 6,
         5, 2, -1, -2, -3, -1, -5, -4, -2, -1,
         -3, -7, -5, -3, -2, -2, -1, 0, -6, 8,
         -1, -7, -2, 0, 0, 1, 1, 1, 0, 0,
         -1, -1, -1, -3]
F_1920 = [0, 0, 0, 0, 0, 1, 6, -6, 0, 1,
          0, 0, 0, 0, 0, 0, 0, 0, 1, -3,
          4, -2, -4, -3, -4, -1, -8, -9, 0, -7,
          -8, -8, -6, -5, -3, -2, -2, 2, 3, 4,
          5, 5, 4, 4, 3, 3, 2, 2, 1, -1,
          1, 3, 2, 0, 10, 16, 9, -2, 6, 6,
          5, 2, -2, -2, -4, -1, -6, -5, -3, -1,
          -4, -8, -6, -3, -3, -2, -1, 0, -9, 12,
          0, -8, -2, 0, 0, 1, 1, 1, 0, 0,
          -1, -1, -2, -3]
F_3840 = [0, 0, 0, 0, 0, 1, 7, -7, 0, 1,
          0, 0, 0, 0, 0, 0, 0, 0, 1, -4,
          4, -3, -4, -3, -4, -1, -8, -9, -1, -7,
          -8, -8, -6, -5, -3, -2, -2, 2, 3, 4,
          5, 6, 4, 4, 3, 3, 2, 2, 1, -1,
          1, 3, 1, 0, 9, 17, 8, -3, 5, 6,
          5, 2, -2, -2, -4, -1, -7, -5, -3, -1,
          -4, -9, -6, -3, -3, -2, -1, 0, -10, 13,
          0, -9, -3, 0, 0, 1, 1, 1, 0, 0,
          -1, -1, -2, -4]

# ---------------- styling / layout ----------------
W, H = 2446, 1209
LINE_COLORS = ["#e2e2e2", "#c9c9c9", "#a3a3a3", "#7f7f7f", "#5c5c5c", "#262626", "#000000"]
LINE_WIDTHS = [2.4, 2.4, 2.4, 2.4, 2.4, 2.8, 2.8]
PURPLE = "rgba(128,80,176,0.30)"
BLUE = "rgba(100,200,240,0.42)"
TICK_FONT = dict(family="Open Sans", size=27, color="black")

PANELS = [
    dict(series=[A_60, A_120, A_240, A_480, A_960, A_1920, A_3840],
         box=(145, 731, 179, 530.5), xr=(0, 95), yr=(-35, 35), band=(40, 62, 35),
         name_pos=(4.9, 22.8),
         regions=[(0.5, 22.0, -0.7, -8.7), (25.9, 35.5, -0.7, -7.7)],
         labels=[("(1)", 7.3, -17.7), ("(2)", 31.8, -17.7)],
         letter=(52, 44), ytitle=(49, 354), xtitle=(438, 637)),
    dict(series=[B_60, B_120, B_240, B_480, B_960, B_1920, B_3840],
         box=(888, 1473, 179, 530.5), xr=(0, 95), yr=(-35, 35), band=(40, 62, 35),
         name_pos=(8.7, 22.9),
         regions=[(0.3, 6.0, -0.5, -34.3), (12.1, 23.1, 0.2, -5.5)],
         labels=[("(1)", 22.4, -12.1), ("(5)", 11.6, -27.8)],
         letter=(827, 44), ytitle=(794, 354), xtitle=(1181, 637)),
    dict(series=[C_60, C_120, C_240, C_480, C_960, C_1920, C_3840],
         box=(1658, 2258, 181.7, 542), xr=(0, 120), yr=(-4, 4), band=(49.6, 76.4, 3.95),
         name_pos=(7.0, 2.43),
         regions=[(5.0, 26.3, -0.14, -1.18), (89.4, 102.4, 0.0, -0.82)],
         labels=[("(1)", 19.9, -2.05), ("(6)", 100.8, -1.82)],
         letter=(1608, 44), ytitle=(1578, 362), xtitle=(1958, 647)),
    dict(series=[D_60, D_120, D_240, D_480, D_960, D_1920, D_3840],
         box=(145, 731, 734, 1085.5), xr=(0, 95), yr=(-35, 35), band=(40, 62, 35),
         name_pos=(4.9, 22.6),
         regions=[(1.9, 22.0, -0.7, -7.8), (24.5, 35.0, -0.3, -7.3),
                  (51.4, 55.6, -0.7, -32.6), (57.0, 60.8, 0.3, -10.9)],
         labels=[("(1)", 15.0, -14.5), ("(2)", 33.2, -13.7), ("(3)", 61.6, -25.6), ("(4)", 65.7, -11.7)],
         letter=(52, 652), ytitle=(48, 910), xtitle=(438, 1192)),
    dict(series=[E_60, E_120, E_240, E_480, E_960, E_1920, E_3840],
         box=(888, 1473, 734, 1085.5), xr=(0, 95), yr=(-35, 35), band=(40, 62, 35),
         name_pos=(8.7, 22.6),
         regions=[(2.7, 22.7, -0.5, -9.2), (25.0, 33.9, -0.5, -7.3), (51.5, 56.1, 0.0, -12.3)],
         labels=[("(1)", 14.5, -16.1), ("(2)", 32.6, -14.1), ("(3)", 63.7, -12.9)],
         letter=(827, 653), ytitle=(794, 910), xtitle=(1181, 1192)),
    dict(series=[F_60, F_120, F_240, F_480, F_960, F_1920, F_3840],
         box=(1643, 2226, 734, 1085.5), xr=(0, 95), yr=(-35, 35), band=(40, 62, 35),
         name_pos=(7.1, 22.6),
         regions=[(26.0, 35.3, -0.3, -13.1), (63.0, 77.0, -0.5, -10.0)],
         labels=[("(2)", 22.1, -17.4), ("(6)", 72.7, -16.7)],
         letter=(1561, 654), ytitle=(1550, 910), xtitle=(1934, 1192)),
]
LEGEND_TOPS = [342, 882]   # y (px) of first legend entry for each row
LEGEND_STEP = 32.7
LEGEND_TEXT_RIGHT = 2365
LEGEND_LINE_X0 = 2378


def px(x):
    return x / W


def py(y):
    return 1 - y / H


def rounded_path(x0, x1, ytop, ybot, kx, ky, r=16):
    rp = min(r, (x1 - x0) * kx / 2, (ytop - ybot) * ky / 2)
    rx, ry = rp / kx, rp / ky
    return (f"M{x0 + rx},{ytop} L{x1 - rx},{ytop} Q{x1},{ytop} {x1},{ytop - ry} "
            f"L{x1},{ybot + ry} Q{x1},{ybot} {x1 - rx},{ybot} L{x0 + rx},{ybot} "
            f"Q{x0},{ybot} {x0},{ybot + ry} L{x0},{ytop - ry} Q{x0},{ytop} {x0 + rx},{ytop} Z")


fig = go.Figure()
shapes = []
annotations = []

for i, p in enumerate(PANELS):
    sfx = "" if i == 0 else str(i + 1)
    xa, ya = "x" + sfx, "y" + sfx
    l, r, t, b = p["box"]
    is_c = (i == 2)

    for k, name in enumerate(TIMES):
        ys = p["series"][k]
        fig.add_trace(go.Scatter(
            x=list(range(1, len(ys) + 1)), y=ys, mode="lines", name=name,
            line=dict(color=LINE_COLORS[k], width=LINE_WIDTHS[k]),
            showlegend=False, hoverinfo="skip", xaxis=xa, yaxis=ya))

    axis_common = dict(showline=True, linecolor="#333333", linewidth=2, mirror="allticks",
                       ticks="inside", ticklen=16, tickwidth=2, tickcolor="#555555",
                       showgrid=False, zeroline=False, tickfont=TICK_FONT, fixedrange=True)
    fig.layout["xaxis" + sfx] = dict(
        domain=[px(l), px(r)], range=list(p["xr"]), anchor=ya,
        tickmode="array", tickvals=X_TICKS_C if is_c else X_TICKS,
        ticklabelstandoff=28, **axis_common)
    fig.layout["yaxis" + sfx] = dict(
        domain=[py(b), py(t)], range=list(p["yr"]), anchor=xa,
        tickmode="array", tickvals=Y_TICKS_C if is_c else Y_TICKS,
        ticktext=Y_TICK_TEXT_C if is_c else Y_TICK_TEXT,
        ticklabelstandoff=12, **axis_common)

    kx = (r - l) / (p["xr"][1] - p["xr"][0])
    ky = (b - t) / (p["yr"][1] - p["yr"][0])

    # zero reference line
    shapes.append(dict(type="line", xref=xa, yref=ya, x0=p["xr"][0], x1=p["xr"][1], y0=0, y1=0,
                       line=dict(color="black", width=2, dash="dot"), layer="above"))
    # purple CDR band
    bx0, bx1, btop = p["band"]
    shapes.append(dict(type="rect", xref=xa, yref=ya, x0=bx0, x1=bx1, y0=p["yr"][0], y1=btop,
                       fillcolor=PURPLE, line=dict(width=0), layer="above"))
    # blue highlighted regions
    for (x0, x1, ytop, ybot) in p["regions"]:
        shapes.append(dict(type="path", xref=xa, yref=ya,
                           path=rounded_path(x0, x1, ytop, ybot, kx, ky),
                           fillcolor=BLUE, line=dict(width=0), layer="above"))

    # texts
    nx, ny = p["name_pos"]
    annotations.append(dict(xref=xa, yref=ya, x=nx, y=ny, text=NAMES[i], showarrow=False,
                            xanchor="left", yanchor="middle",
                            font=dict(family="Open Sans", size=41, color="black")))
    for (txt, lx, ly) in p["labels"]:
        annotations.append(dict(xref=xa, yref=ya, x=lx, y=ly, text=txt, showarrow=False,
                                xanchor="center", yanchor="middle",
                                font=dict(family="Open Sans", size=45, color="black")))
    lx, ly = p["letter"]
    annotations.append(dict(xref="paper", yref="paper", x=px(lx), y=py(ly), text=LETTERS[i],
                            showarrow=False, xanchor="center", yanchor="middle",
                            font=dict(family="Open Sans", size=47, color="black")))
    tx, ty = p["ytitle"]
    annotations.append(dict(xref="paper", yref="paper", x=px(tx), y=py(ty),
                            text="Δ Deuterium exchange rate %", textangle=-90, showarrow=False,
                            xanchor="center", yanchor="middle",
                            font=dict(family="DejaVu Sans", size=28, color="black")))
    tx, ty = p["xtitle"]
    annotations.append(dict(xref="paper", yref="paper", x=px(tx), y=py(ty), text="Peptide Number",
                            showarrow=False, xanchor="center", yanchor="middle",
                            font=dict(family="Open Sans", size=34, color="black")))

# manual legends (label left, line sample right)
for top in LEGEND_TOPS:
    for k, name in enumerate(TIMES):
        yc = top + k * LEGEND_STEP
        annotations.append(dict(xref="paper", yref="paper", x=px(LEGEND_TEXT_RIGHT), y=py(yc),
                                text=name, showarrow=False, xanchor="right", yanchor="middle",
                                font=dict(family="Open Sans", size=23, color="black")))
        shapes.append(dict(type="line", xref="paper", yref="paper",
                           x0=px(LEGEND_LINE_X0), x1=1.0, y0=py(yc - 3), y1=py(yc - 3),
                           line=dict(color=LINE_COLORS[k], width=LINE_WIDTHS[k] + 0.4)))

fig.update_layout(width=W, height=H, margin=dict(l=0, r=0, t=0, b=0),
                  paper_bgcolor="white", plot_bgcolor="white", showlegend=False,
                  font=dict(family="Open Sans", color="black"),
                  shapes=shapes, annotations=annotations)

fig.write_html("out.html",
               post_script="document.body.style.margin='0px';document.body.style.overflow='hidden';")
